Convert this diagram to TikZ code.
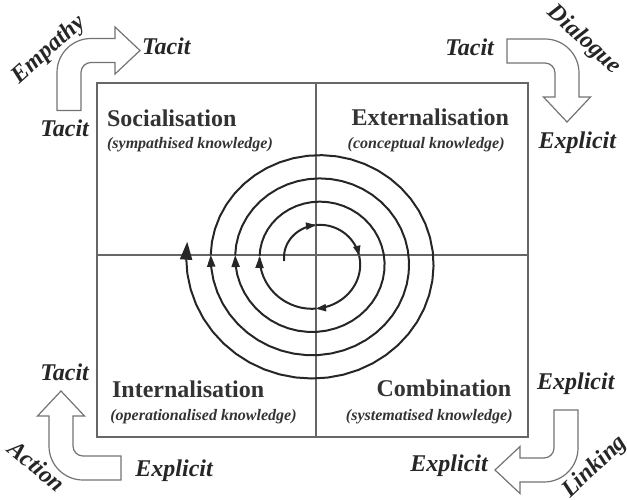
\documentclass[tikz,border=0pt]{standalone}
\usepackage{fontspec}
\setmainfont{Liberation Serif}
\usetikzlibrary{arrows.meta}

% hollow bent arrow, corner at the origin: comes up from below, turns right
\newcommand{\bentarrow}[1]{%
	\draw[hollow] (-12,-60) -- (-12,-22) arc[start angle=180,end angle=90,radius=34]
		-- (#1,12) -- (#1,23.5) -- ({#1+25},0) -- (#1,-23.5) -- (#1,-12)
		-- (22,-12) arc[start angle=90,end angle=180,radius=10] -- (12,-60) -- cycle;
}

\begin{document}
\begin{tikzpicture}[x=0.5pt,y=0.5pt,
	frame/.style={draw=black!60,line width=0.6pt},
	hollow/.style={draw=black!55,line width=0.6pt},
	head/.style={font=\fontsize{12}{14}\selectfont\bfseries,text=black!80,inner sep=0pt},
	sub/.style={font=\fontsize{8}{10}\selectfont\bfseries\itshape,text=black!80,inner sep=0pt},
	mode/.style={font=\fontsize{12}{14}\selectfont\bfseries\itshape,text=black!85,inner sep=0pt},
	spiral/.style={line width=1pt,draw=black!85},
	declare function={sprad(\t)=31.75+6.125*\t;
		spx(\t)=316+sprad(\t)*cos(180-90*\t);
		spy(\t)=-261+0.95*sprad(\t)*sin(180-90*\t);}]
	\useasboundingbox (0,-499) rectangle (627,0);

	% the four quadrants
	\draw[frame] (97,-83) rectangle (528,-437);
	\draw[frame] (316,-83) -- (316,-437);
	\draw[frame] (97,-255) -- (528,-255);

	\node[head,anchor=base west] (soc) at (106.7,-126.7) {Socialisation};
	\node[sub,anchor=base west] (socsub) at (106.7,-148) {(sympathised knowledge)};
	\node[head,anchor=base east] (ext) at (509.3,-125.7) {Externalisation};
	\node[sub,anchor=base east] (extsub) at (505,-148) {(conceptual knowledge)};
	\node[head,anchor=base west] (int) at (111.7,-397.3) {Internalisation};
	\node[sub,anchor=base west] (intsub) at (110,-420) {(operationalised knowledge)};
	\node[head,anchor=base east] (comb) at (511.7,-396.7) {Combination};
	\node[sub,anchor=base east] (combsub) at (513,-420) {(systematised knowledge)};

	% spiral
	\foreach \a/\b/\len/\wid in {0/1/5/3.5,1/1.92/5/3.5,1.92/3/5/3.5,3/4.06/6/4,4.06/8.05/6/4,8.05/12.04/6/4,12.04/16.1/9/6}{
		\draw[spiral,-{Triangle[length=\len pt,width=\wid pt]}]
			plot[domain=\a:\b,samples=50,variable=\t] ({spx(\t)},{spy(\t)});
	}

	% bent arrows in the corners
	\begin{scope}[shift={(69,-50.5)}]
		\bentarrow{46}
	\end{scope}
	\begin{scope}[shift={(567,-51)},rotate=-90]
		\bentarrow{46}
	\end{scope}
	\begin{scope}[shift={(566,-470)},rotate=180]
		\bentarrow{46}
	\end{scope}
	\begin{scope}[shift={(61,-468)},rotate=90]
		\bentarrow{52}
	\end{scope}

	\node[mode,anchor=base west] (tacita) at (141.7,-54) {Tacit};
	\node[mode,anchor=base west] (tacitb) at (40,-136.7) {Tacit};
	\node[mode,anchor=base west] (tacitc) at (445,-55) {Tacit};
	\node[mode,anchor=base west] (expla) at (538.3,-148) {Explicit};
	\node[mode,anchor=base west] (tacitd) at (40,-380) {Tacit};
	\node[mode,anchor=base west] (explb) at (135,-476.7) {Explicit};
	\node[mode,anchor=base west] (explc) at (536.7,-389.3) {Explicit};
	\node[mode,anchor=base west] (expld) at (410,-471.7) {Explicit};

	\node[mode,rotate=42] (empathy) at (49,-50) {Empathy};
	\node[mode,rotate=-42] (dialogue) at (584,-40) {Dialogue};
	\node[mode,rotate=-40] (action) at (37,-466) {Action};
	\node[mode,rotate=43] (linking) at (595,-467) {Linking};
\end{tikzpicture}
\end{document}
